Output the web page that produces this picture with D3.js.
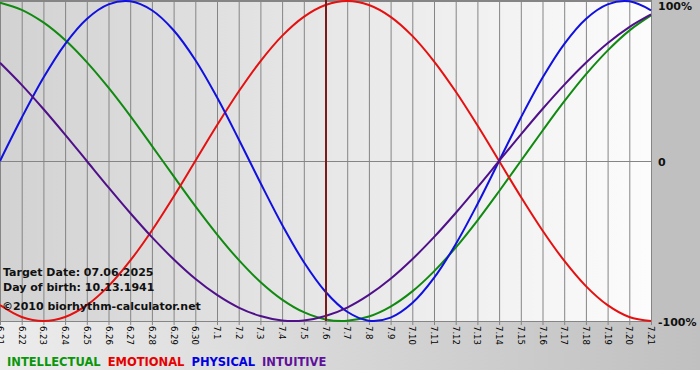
<!DOCTYPE html>
<html>
<head>
<meta charset="utf-8">
<script src="https://cdn.jsdelivr.net/npm/d3@7"></script>
<style>
  body { margin: 0; background: #fff; }
  svg { display: block; }
  text { font-family: "DejaVu Sans", Verdana, sans-serif; }
</style>
</head>
<body>
<svg id="chart" width="700" height="380"></svg>
<script>
// DATA (one value per day, 6.21 .. 7.21)
const dayLabels = ["6.21","6.22","6.23","6.24","6.25","6.26","6.27","6.28","6.29","6.30",
  "7.1","7.2","7.3","7.4","7.5","7.6","7.7","7.8","7.9","7.10","7.11","7.12","7.13",
  "7.14","7.15","7.16","7.17","7.18","7.19","7.20","7.21"];

const intellectual = [0.99,0.945,0.866,0.756,0.618,0.458,0.282,0.095,-0.095,-0.282,-0.458,
  -0.618,-0.756,-0.866,-0.945,-0.99,-0.999,-0.972,-0.91,-0.815,-0.69,-0.541,-0.372,-0.189,
  0,0.189,0.372,0.541,0.69,0.815,0.91];
const emotional = [-0.901,-0.975,-1,-0.975,-0.901,-0.782,-0.623,-0.434,-0.223,0,0.223,0.434,
  0.623,0.782,0.901,0.975,1,0.975,0.901,0.782,0.623,0.434,0.223,0,-0.223,-0.434,-0.623,
  -0.782,-0.901,-0.975,-1];
const physical = [0,0.27,0.52,0.731,0.888,0.979,0.998,0.942,0.817,0.631,0.398,0.136,-0.136,
  -0.398,-0.631,-0.817,-0.942,-0.998,-0.979,-0.888,-0.731,-0.52,-0.27,0,0.27,0.52,0.731,
  0.888,0.979,0.998,0.942];
const intuitive = [0.614,0.476,0.325,0.165,0,-0.165,-0.325,-0.476,-0.614,-0.736,-0.837,
  -0.916,-0.969,-0.997,-0.997,-0.969,-0.916,-0.837,-0.736,-0.614,-0.476,-0.325,-0.165,0,
  0.165,0.325,0.476,0.614,0.736,0.837,0.916];

const series = [
  { name: "INTELLECTUAL", values: intellectual, color: "#108a10", legend: "#0a960a" },
  { name: "EMOTIONAL", values: emotional, color: "#e51010", legend: "#e60000" },
  { name: "PHYSICAL", values: physical, color: "#1010e0", legend: "#0000e0" },
  { name: "INTUITIVE", values: intuitive, color: "#50108a", legend: "#60109a" }
];
const targetLabel = "7.6";
const yLabels = [{ v: 1, t: "100%" }, { v: 0, t: "0" }, { v: -1, t: "-100%" }];
const infoLines = ["Target Date: 07.06.2025", "Day of birth: 10.13.1941"];
const credit = "\u00a92010 biorhythm-calculator.net";

const svg = d3.select("#chart");
const defs = svg.append("defs");

// backgrounds
const outerGrad = defs.append("linearGradient").attr("id", "outerGrad")
  .attr("x1", "0").attr("x2", "1").attr("y1", "0").attr("y2", "0");
outerGrad.append("stop").attr("offset", "0").attr("stop-color", "#ececec");
outerGrad.append("stop").attr("offset", "1").attr("stop-color", "#c0c0c0");

const plotGrad = defs.append("linearGradient").attr("id", "plotGrad")
  .attr("x1", "0").attr("x2", "1").attr("y1", "0").attr("y2", "0");
plotGrad.append("stop").attr("offset", "0").attr("stop-color", "#d2d2d2");
plotGrad.append("stop").attr("offset", "1").attr("stop-color", "#fcfcfc");

svg.append("rect").attr("width", 700).attr("height", 370).attr("fill", "url(#outerGrad)");
svg.append("rect").attr("x", 652).attr("width", 48).attr("height", 322).attr("fill", "#c0c0c0");

const x = d3.scalePoint().domain(dayLabels).range([0, 651]);
const y = d3.scaleLinear().domain([-1, 1]).range([321, 1]);

svg.append("rect")
  .attr("x", 0).attr("y", 0).attr("width", 651).attr("height", 321)
  .attr("fill", "url(#plotGrad)");

// vertical grid + tick marks
svg.append("g").selectAll("line").data(dayLabels).join("line")
  .attr("x1", d => x(d) + 0.5).attr("x2", d => x(d) + 0.5)
  .attr("y1", 0).attr("y2", 325)
  .attr("stroke", "#858585").attr("stroke-width", 1);

// top border, zero line, bottom axis
[1, 0, -1].forEach(v => {
  svg.append("line")
    .attr("x1", 0).attr("x2", 652)
    .attr("y1", Math.round(y(v)) + 0.5).attr("y2", Math.round(y(v)) + 0.5)
    .attr("stroke", "#858585");
});
svg.append("line").attr("x1", 0).attr("x2", 652).attr("y1", 0.5).attr("y2", 0.5)
  .attr("stroke", "#858585");

// x tick labels, rotated
svg.append("g").selectAll("text").data(dayLabels).join("text")
  .attr("transform", d => `translate(${x(d)},326) rotate(90)`)
  .attr("dy", "0.35em")
  .attr("font-size", 8.5)
  .attr("fill", "#000")
  .text(d => d);

// y labels (top one kept inside the picture)
svg.append("g").selectAll("text").data(yLabels).join("text")
  .attr("x", 658)
  .attr("y", d => Math.max(y(d.v) + 5, 10))
  .attr("font-size", 11).attr("font-weight", "bold")
  .attr("fill", "#111")
  .text(d => d.t);

// curves
const line = d3.line()
  .x((d, i) => x(dayLabels[i]))
  .y(d => y(d))
  .curve(d3.curveCatmullRom.alpha(0.5));

svg.append("g").selectAll("path").data(series).join("path")
  .attr("d", d => line(d.values))
  .attr("fill", "none")
  .attr("stroke", d => d.color)
  .attr("stroke-width", 2);

// target day line
svg.append("line")
  .attr("x1", x(targetLabel) + 0.5).attr("x2", x(targetLabel) + 0.5)
  .attr("y1", 0).attr("y2", 321)
  .attr("stroke", "#7a1a1a").attr("stroke-width", 2);

// info text
const info = svg.append("g").attr("font-size", 11).attr("font-weight", "bold").attr("fill", "#111");
infoLines.forEach((t, i) => {
  info.append("text").attr("x", 3).attr("y", 276 + i * 14.5).text(t);
});
info.append("text").attr("x", 2).attr("y", 310).text(credit);

// legend
let lx = 7;
series.forEach(s => {
  const t = svg.append("text").attr("x", lx).attr("y", 366)
    .attr("font-size", 11.5).attr("font-weight", "bold")
    .attr("fill", s.legend).text(s.name);
  lx += t.node().getComputedTextLength() + 7;
});
</script>
</body>
</html>
